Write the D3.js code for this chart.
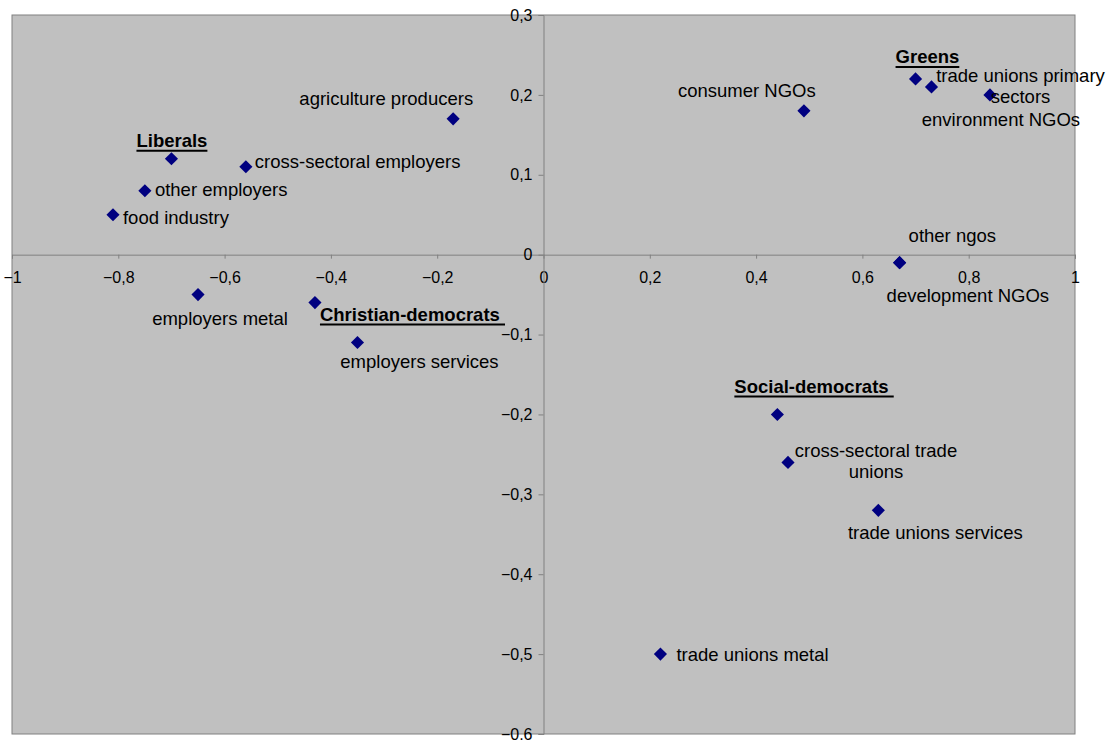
<!DOCTYPE html>
<html><head><meta charset="utf-8">
<script src="https://cdn.jsdelivr.net/npm/d3@7"></script>
<style>
html,body{margin:0;padding:0;background:#fff;}
svg text{font-family:"Liberation Sans",Arial,sans-serif;fill:#000;}
</style></head>
<body><svg id="chart" width="1113" height="740"></svg>
<script>
// ---- data ----
const pointNames = ["Liberals","cross-sectoral employers","other employers","food industry",
  "agriculture producers","consumer NGOs","Greens","trade unions primary sectors","environment NGOs",
  "other ngos","development NGOs","employers metal","Christian-democrats","employers services",
  "Social-democrats","cross-sectoral trade unions","trade unions services","trade unions metal"];
const xValues = [-0.70,-0.56,-0.75,-0.81,-0.17,0.49,0.70,0.73,0.84,0.67,0.67,-0.65,-0.43,-0.35,0.44,0.46,0.63,0.22];
const yValues = [0.12,0.11,0.08,0.05,0.17,0.18,0.22,0.21,0.20,-0.01,-0.01,-0.05,-0.06,-0.11,-0.20,-0.26,-0.32,-0.50];
const labelLines = [["Liberals"],["cross-sectoral employers"],["other employers"],["food industry"],
  ["agriculture producers"],["consumer NGOs"],["Greens"],["trade unions primary","sectors"],["environment NGOs"],
  ["other ngos"],["development NGOs"],["employers metal"],["Christian-democrats "],["employers services"],
  ["Social-democrats "],["cross-sectoral trade","unions"],["trade unions services"],["trade unions metal"]];
const partyLabels = ["Liberals","Greens","Christian-democrats","Social-democrats"];
const xTicks = [-1,-0.8,-0.6,-0.4,-0.2,0,0.2,0.4,0.6,0.8,1];
const yTicks = [0.3,0.2,0.1,0,-0.1,-0.2,-0.3,-0.4,-0.5,-0.6];

// ---- label layout (pixel offsets from marker) ----
const labelLayout = [
  {dx:-35,dy:-18,a:"start"},{dx:9,dy:-5,a:"start"},{dx:10,dy:-1,a:"start"},{dx:10,dy:3,a:"start"},
  {dx:20,dy:-20,a:"end"},{dx:-126,dy:-20,a:"start"},{dx:-20,dy:-22,a:"start"},{dx:89,dy:-11,a:"middle"},
  {dx:11,dy:25,a:"middle"},{dx:9,dy:-27,a:"start"},{dx:-13,dy:33,a:"start"},{dx:22,dy:24,a:"middle"},
  {dx:5,dy:12,a:"start"},{dx:62,dy:19,a:"middle"},{dx:-43,dy:-28,a:"start"},{dx:88,dy:-12,a:"middle"},
  {dx:57,dy:22,a:"middle"},{dx:16,dy:0,a:"start"}];

const svg = d3.select("#chart");
const L = 12, R = 1075, T = 15, B = 734;
const x = d3.scaleLinear().domain([-1,1]).range([L,R]);
const y = d3.scaleLinear().domain([-0.6,0.3]).range([B,T]);
const fmt = d => { const s = d3.format(".1~f")(d); return s.replace(".",","); };

svg.append("rect").attr("x",L).attr("y",T).attr("width",R-L).attr("height",B-T)
  .attr("fill","#c0c0c0").attr("stroke","#808080").attr("stroke-width",1);

// x axis
const xAxis = svg.append("g").attr("transform",`translate(0,${y(0)})`)
  .call(d3.axisBottom(x).tickValues(xTicks).tickFormat(fmt).tickSize(4).tickPadding(13));
// y axis
const yAxis = svg.append("g").attr("transform",`translate(${x(0)},0)`)
  .call(d3.axisLeft(y).tickValues(yTicks).tickFormat(fmt).tickSize(5).tickPadding(6));
[xAxis,yAxis].forEach(g=>{
  g.select(".domain").attr("stroke","#808080");
  g.selectAll(".tick line").attr("stroke","#808080");
  g.selectAll(".tick text").attr("font-size","16px").attr("fill","#000")
   .style("font-family",'"Liberation Sans",Arial,sans-serif');
});
xAxis.selectAll(".tick text").attr("dy","0.32em").attr("y",23);

// markers
const data = pointNames.map((n,i)=>({name:n,x:xValues[i],y:yValues[i],lines:labelLines[i],lay:labelLayout[i]}));
svg.append("g").selectAll("path").data(data).join("path")
  .attr("d",d3.symbol().type(d3.symbolDiamond2).size(110))
  .attr("transform",d=>`translate(${x(d.x)},${y(d.y)})`)
  .attr("fill","#000080");

// labels
const lg = svg.append("g");
data.forEach(d=>{
  const px = x(d.x), py = y(d.y);
  const bold = partyLabels.includes(d.name);
  const n = d.lines.length;
  d.lines.forEach((line,k)=>{
    const ty = py + d.lay.dy + (n>1 ? (k===0 ? 0 : 21) : 0);
    const t = lg.append("text").attr("x",px+d.lay.dx).attr("y",ty)
      .attr("dominant-baseline","central").attr("text-anchor",d.lay.a)
      .attr("font-size","18.5px").attr("font-weight",bold?"bold":"normal")
      .style("white-space","pre").text(line);
    if(bold){
      const w = t.node().getComputedTextLength();
      let x0 = px+d.lay.dx;
      if(d.lay.a==="middle") x0 -= w/2; else if(d.lay.a==="end") x0 -= w;
      lg.append("line").attr("x1",x0).attr("x2",x0+w).attr("y1",ty+10).attr("y2",ty+10)
        .attr("stroke","#000").attr("stroke-width",2);
    }
  });
});
</script></body></html>
